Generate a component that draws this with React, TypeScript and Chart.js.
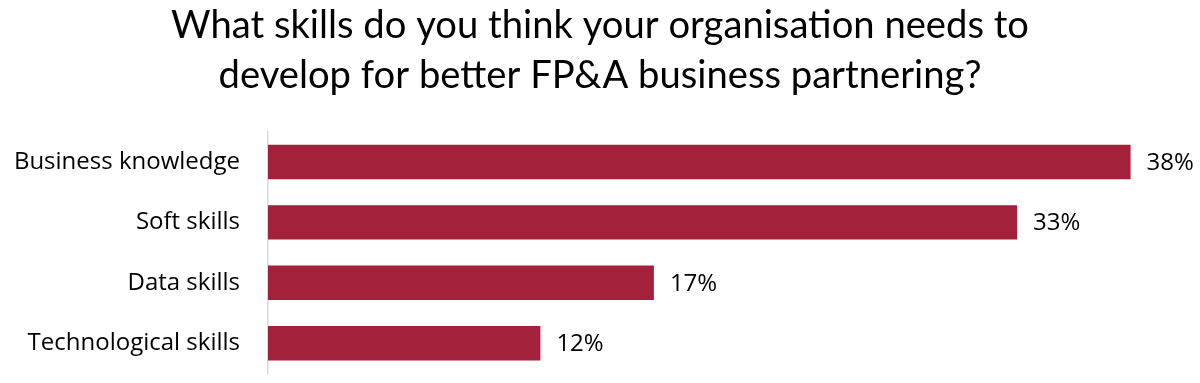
import React, { useEffect, useRef } from "react";
import { Chart, registerables } from "chart.js";

Chart.register(...registerables);

const titleLines = [
  "What skills do you think your organisation needs to",
  "develop for better FP&A business partnering?",
];
const categories = [
  "Business knowledge",
  "Soft skills",
  "Data skills",
  "Technological skills",
];
const values = [38, 33, 17, 12];
const barColor = "#A4213B";
const FONT = "'Open Sans', sans-serif";
const TITLE_FONT = "Lato, sans-serif";

const titlePlugin = {
  id: "customTitle",
  afterDraw(chart: any) {
    const ctx = chart.ctx;
    ctx.save();
    ctx.font = `38.2px ${TITLE_FONT}`;
    ctx.fillStyle = "#000";
    ctx.textAlign = "center";
    ctx.textBaseline = "alphabetic";
    titleLines.forEach((line, i) => {
      ctx.fillText(line, chart.width / 2, 38 + i * 50);
    });
    ctx.restore();
  },
};

const valueLabels = {
  id: "valueLabels",
  afterDatasetsDraw(chart: any) {
    const ctx = chart.ctx;
    const meta = chart.getDatasetMeta(0);
    ctx.save();
    ctx.font = `24px ${FONT}`;
    ctx.fillStyle = "#000";
    ctx.textAlign = "left";
    ctx.textBaseline = "middle";
    meta.data.forEach((el: any, i: number) => {
      ctx.fillText(values[i] + "%", el.x + 16, el.y + 1);
    });
    ctx.restore();
  },
};

export default function App() {
  const ref = useRef<HTMLCanvasElement>(null);
  useEffect(() => {
    document.body.style.margin = "0";
    const chart = new Chart(ref.current!, {
      type: "bar",
      data: {
        labels: categories,
        datasets: [
          {
            data: values,
            backgroundColor: barColor,
            barPercentage: 0.57,
            categoryPercentage: 1,
          },
        ],
      },
      options: {
        indexAxis: "y",
        animation: false,
        responsive: false,
        layout: { padding: { top: 131.7, right: 24, bottom: 9.5, left: 0 } },
        plugins: {
          legend: { display: false },
          tooltip: { enabled: false },
          title: { display: false },
        },
        scales: {
          x: { display: false, min: 0, max: 40 },
          y: {
            grid: { display: false, drawTicks: false },
            border: { display: true, color: "#D9D9D9", width: 1.5 },
            ticks: {
              color: "#000",
              font: { family: FONT, size: 24 },
              padding: 28,
            },
            afterFit(scale: any) {
              scale.width = 268;
              scale.paddingTop = 0;
              scale.paddingBottom = 0;
            },
          },
        },
      },
      plugins: [valueLabels, titlePlugin],
    });
    return () => chart.destroy();
  }, []);
  return <canvas ref={ref} width={1200} height={383} style={{ display: "block" }} />;
}
